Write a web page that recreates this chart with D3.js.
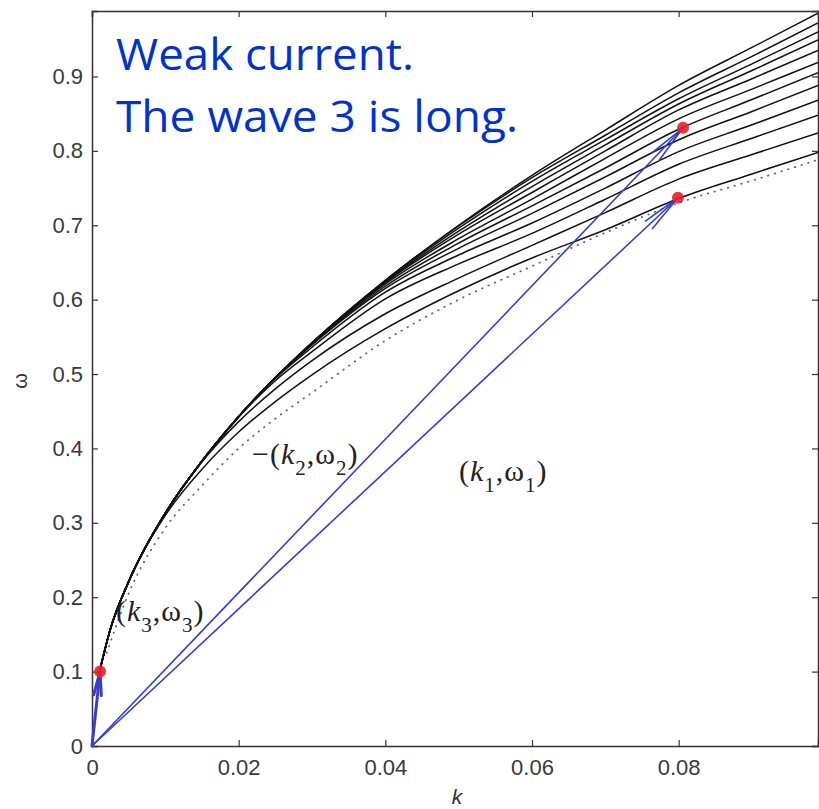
<!DOCTYPE html>
<html lang="en">
<head>
<meta charset="utf-8">
<script src="https://d3js.org/d3.v7.min.js"></script>
<title>Weak current dispersion</title>
<style>
  body { margin: 0; background: #fff; }
</style>
</head>
<body>
<div id="container"></div>
<script>
const kGrid = [0.001, 0.0025, 0.005, 0.01, 0.015, 0.02, 0.025, 0.03, 0.04, 0.05, 0.06, 0.07, 0.08, 0.09, 0.099];

// solid dispersion curves, top to bottom
const curve0  = [0.099, 0.157, 0.221, 0.313, 0.383, 0.443, 0.495, 0.542, 0.626, 0.700, 0.767, 0.828, 0.888, 0.939, 0.985];
const curve1  = [0.099, 0.157, 0.221, 0.313, 0.383, 0.443, 0.495, 0.542, 0.626, 0.699, 0.764, 0.821, 0.878, 0.927, 0.972];
const curve2  = [0.099, 0.157, 0.221, 0.313, 0.383, 0.443, 0.495, 0.542, 0.625, 0.696, 0.759, 0.815, 0.870, 0.917, 0.960];
const curve3  = [0.099, 0.157, 0.221, 0.313, 0.383, 0.443, 0.495, 0.542, 0.624, 0.692, 0.752, 0.808, 0.863, 0.908, 0.949];
const curve4  = [0.099, 0.157, 0.221, 0.313, 0.383, 0.443, 0.495, 0.542, 0.623, 0.688, 0.744, 0.800, 0.855, 0.897, 0.935];
const curve5  = [0.099, 0.157, 0.221, 0.313, 0.383, 0.443, 0.495, 0.541, 0.621, 0.682, 0.735, 0.790, 0.843, 0.883, 0.919];
const curve6  = [0.099, 0.157, 0.221, 0.313, 0.383, 0.443, 0.495, 0.540, 0.618, 0.676, 0.726, 0.777, 0.829, 0.869, 0.905];
const curve7  = [0.099, 0.157, 0.221, 0.313, 0.383, 0.443, 0.495, 0.539, 0.615, 0.669, 0.716, 0.765, 0.815, 0.853, 0.888];
const curve8  = [0.099, 0.157, 0.221, 0.313, 0.383, 0.443, 0.494, 0.536, 0.610, 0.660, 0.703, 0.750, 0.799, 0.835, 0.868];
const curve9  = [0.099, 0.157, 0.221, 0.313, 0.383, 0.442, 0.491, 0.530, 0.601, 0.648, 0.689, 0.735, 0.782, 0.817, 0.848];
const curve10 = [0.099, 0.157, 0.221, 0.313, 0.382, 0.436, 0.480, 0.518, 0.581, 0.629, 0.673, 0.717, 0.762, 0.795, 0.824];
const curve11 = [0.099, 0.157, 0.221, 0.310, 0.372, 0.422, 0.463, 0.499, 0.561, 0.612, 0.656, 0.694, 0.736, 0.769, 0.798];
const solidCurves = [curve0, curve1, curve2, curve3, curve4, curve5, curve6, curve7, curve8, curve9, curve10, curve11];

// dotted reference curve
const dottedK = [0.002, 0.005, 0.01, 0.015, 0.02, 0.025, 0.03, 0.04, 0.05, 0.06, 0.07, 0.08, 0.09, 0.099];
const dottedW = [0.125, 0.205, 0.293, 0.350, 0.400, 0.440, 0.475, 0.545, 0.600, 0.645, 0.690, 0.730, 0.760, 0.788];

// resonant triad points (k, omega): wave 3, wave 2, wave 1
const triadK = [0.0011, 0.0806, 0.0799];
const triadW = [0.100, 0.831, 0.737];

const xTicks = [0, 0.02, 0.04, 0.06, 0.08];
const yTicks = [0, 0.1, 0.2, 0.3, 0.4, 0.5, 0.6, 0.7, 0.8, 0.9];

const W = 819, H = 809;
const PAD_L = 92, PAD_R = 818, PAD_T = 11, PAD_B = 746;

const svg = d3.select("#container").append("svg")
    .attr("width", W).attr("height", H)
    .style("font-family", "'Liberation Sans', Arial, sans-serif");

svg.append("rect").attr("width", W).attr("height", H).attr("fill", "#fff");

const x = d3.scaleLinear().domain([0, 0.099]).range([PAD_L, PAD_R]);
const y = d3.scaleLinear().domain([0, 0.988]).range([PAD_B, PAD_T]);

svg.append("clipPath").attr("id", "plotclip")
   .append("rect").attr("x", PAD_L).attr("y", PAD_T)
   .attr("width", PAD_R - PAD_L).attr("height", PAD_B - PAD_T);

const plot = svg.append("g").attr("clip-path", "url(#plotclip)");

const line = d3.line()
    .x(d => x(d[0]))
    .y(d => y(d[1]))
    .curve(d3.curveMonotoneX);

// dotted curve
plot.append("path")
    .datum(dottedK.map((k, i) => [k, dottedW[i]]))
    .attr("d", line)
    .attr("fill", "none")
    .attr("stroke", "#666")
    .attr("stroke-width", 1.8)
    .attr("stroke-linecap", "round")
    .attr("stroke-dasharray", "0.5,6.5");

// solid family
plot.selectAll(".disp")
    .data(solidCurves)
    .enter()
    .append("path")
    .attr("class", "disp")
    .attr("d", c => line(kGrid.map((k, i) => [k, c[i]])))
    .attr("fill", "none")
    .attr("stroke", "#111")
    .attr("stroke-width", 1.5);

// axes
const yAxis = d3.axisLeft(y).tickValues(yTicks).tickSize(-6).tickPadding(9).tickFormat(d => d);
const xAxis = d3.axisBottom(x).tickValues(xTicks).tickSize(-6).tickPadding(13).tickFormat(d => d);

const gy = svg.append("g").attr("transform", "translate(" + PAD_L + ",0)").call(yAxis);
const gx = svg.append("g").attr("transform", "translate(0," + PAD_B + ")").call(xAxis);
svg.append("g").attr("transform", "translate(" + PAD_R + ",0)")
   .call(d3.axisRight(y).tickValues(yTicks).tickSize(-6).tickFormat(""));
svg.append("g").attr("transform", "translate(0," + PAD_T + ")")
   .call(d3.axisTop(x).tickValues(xTicks).tickSize(-6).tickFormat(""));

svg.selectAll(".domain").attr("stroke", "#333").attr("stroke-width", 1.5);
svg.selectAll(".tick line").attr("stroke", "#333").attr("stroke-width", 1.2);
gy.attr("font-size", 22);
gx.attr("font-size", 22);
svg.selectAll(".tick text").attr("fill", "#3a3a3a");

svg.append("text")
   .attr("x", 457).attr("y", 804)
   .attr("text-anchor", "middle")
   .style("font-size", "21px").style("font-style", "italic")
   .attr("fill", "#333")
   .text("k");

svg.append("text")
   .attr("transform", "translate(27,381) rotate(-90)")
   .attr("text-anchor", "middle")
   .style("font-size", "20px")
   .attr("fill", "#333")
   .text("ω");

// arrows from the origin to the triad points
const blue = "#3c3ccc";
function arrow(k, w, width, headLen, spread) {
    const x0 = x(0), y0 = y(0), x1 = x(k), y1 = y(w);
    const ang = Math.atan2(y1 - y0, x1 - x0);
    const g = svg.append("g").attr("stroke", blue).attr("fill", "none")
        .attr("stroke-width", width).attr("stroke-linecap", "round");
    g.append("line").attr("x1", x0).attr("y1", y0).attr("x2", x1).attr("y2", y1);
    [-spread, spread].forEach(s => {
        g.append("line")
         .attr("x1", x1).attr("y1", y1)
         .attr("x2", x1 - headLen * Math.cos(ang + s))
         .attr("y2", y1 - headLen * Math.sin(ang + s));
    });
}
arrow(triadK[1], triadW[1], 1.6, 40, 0.13);
arrow(triadK[2], triadW[2], 1.6, 40, 0.13);
arrow(triadK[0], triadW[0], 3, 24, 0.16);

// red dots
svg.selectAll(".dot")
   .data(triadK)
   .enter()
   .append("circle")
   .attr("class", "dot")
   .attr("cx", (d) => x(d))
   .attr("cy", (d, i) => y(triadW[i]))
   .attr("r", 6)
   .attr("fill", "#e5222a")
   .attr("opacity", 0.9);

// triad labels
function triadLabel(xp, yp, prefix, sub) {
    const t = svg.append("text")
        .attr("x", xp).attr("y", yp)
        .style("font-family", "'Liberation Serif', 'Times New Roman', serif")
        .style("font-size", "30px")
        .style("letter-spacing", "1px")
        .attr("fill", "#222");
    t.append("tspan").text(prefix + "(");
    t.append("tspan").style("font-style", "italic").text("k");
    t.append("tspan").attr("dy", 11).style("font-size", "21px").text(sub);
    t.append("tspan").attr("dy", -11).text(",ω");
    t.append("tspan").attr("dy", 11).style("font-size", "21px").text(sub);
    t.append("tspan").attr("dy", -11).text(")");
}
triadLabel(116, 621, "", "3");
triadLabel(252, 464, "−", "2");
triadLabel(459, 481, "", "1");

// annotation
const note = svg.append("g")
    .style("font-family", "'Open Sans', 'Noto Sans', sans-serif")
    .style("font-size", "44px")
    .attr("fill", "#0033cc");
note.append("text").attr("x", 116).attr("y", 70)
    .attr("textLength", 298).attr("lengthAdjust", "spacingAndGlyphs")
    .text("Weak current.");
note.append("text").attr("x", 116).attr("y", 132)
    .attr("textLength", 402).attr("lengthAdjust", "spacingAndGlyphs")
    .text("The wave 3 is long.");
</script>
</body>
</html>
